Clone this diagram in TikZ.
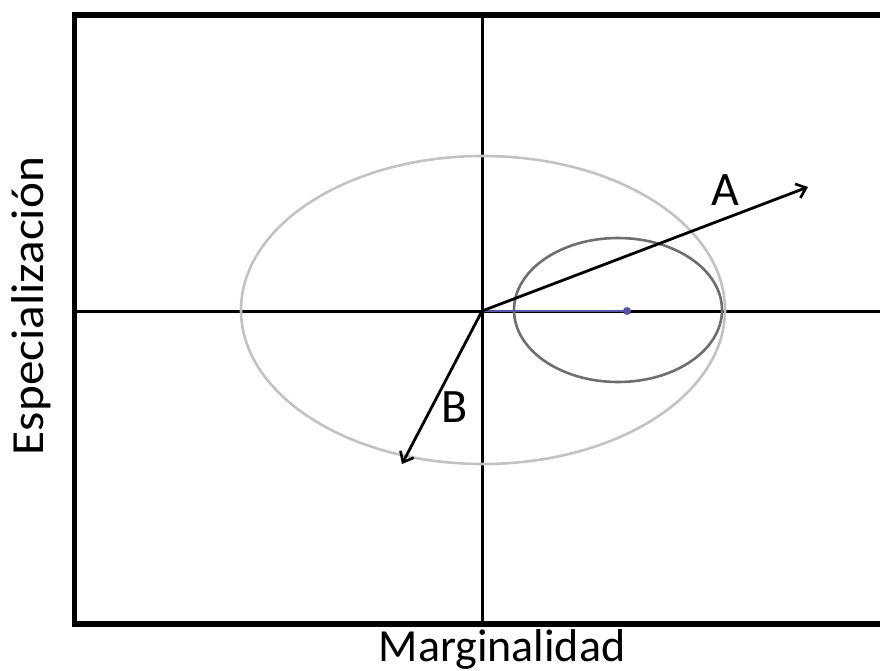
\documentclass[tikz,border=0pt]{standalone}
\usepackage{fontspec}
\setmainfont{Carlito}
\usetikzlibrary{arrows.meta}
\definecolor{bigell}{HTML}{C2C2C2}
\definecolor{smallell}{HTML}{6E6E6E}
\definecolor{bluel}{HTML}{5555A8}
\tikzset{
  axisline/.style={line width=3pt, black},
  frameline/.style={line width=5.5pt, black},
  vecarrow/.style={line width=2.8pt, black, -{Straight Barb[length=9pt,width=15pt,line width=2.6pt]}},
  axislabel/.style={font=\fontsize{46}{52}\selectfont, inner sep=0pt, anchor=base},
  veclabel/.style={font=\fontsize{48}{54}\selectfont, inner sep=0pt},
}
\begin{document}
\begin{tikzpicture}[x=1pt,y=-1pt]
\useasboundingbox (0,0) rectangle (880,671);
\begin{scope}
\clip (0,0) rectangle (880,671);
\draw[frameline] (74.5,15) rectangle (920,624);
\end{scope}
\coordinate (O) at (482,311);
\coordinate (top) at (482,15);
\coordinate (bot) at (482,624);
\coordinate (left) at (74.5,311);
\coordinate (right) at (880,311);
\coordinate (Atip) at (808,187);
\coordinate (Btip) at (402,464);
\coordinate (bigc) at (483,310);
\coordinate (smallc) at (618,310);
\draw[axisline] (top) -- (bot);
\draw[axisline] (left) -- (right);
\draw[bigell, line width=2.6pt] (bigc) ellipse [x radius=242pt, y radius=154pt];
\draw[smallell, line width=2.6pt] (smallc) ellipse [x radius=104pt, y radius=72pt];
\node[circle, fill=bluel, inner sep=0pt, minimum size=8pt] (dot) at (627,311) {};
\draw[bluel, line width=2.6pt] (O) -- (dot.center);
\draw[vecarrow] (O) -- (Atip);
\draw[vecarrow] (O) -- (Btip);
\node[veclabel] (A) at (725,190) {A};
\node[veclabel] (B) at (455,407) {B};
\node[axislabel] (xl) at (502,661) {Marginalidad};
\node[axislabel, rotate=90] (yl) at (43,306) {\scalebox{1.07}[1]{Especialización}};
\end{tikzpicture}
\end{document}
